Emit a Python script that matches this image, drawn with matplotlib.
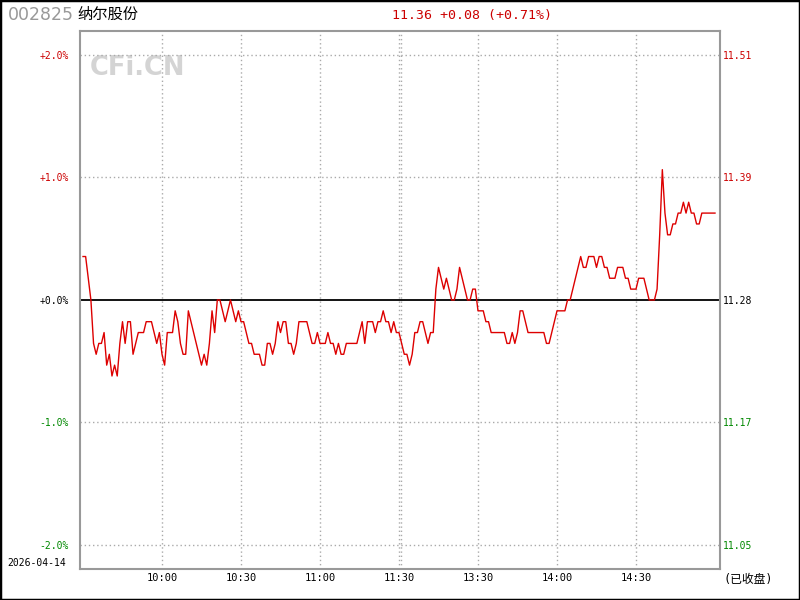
import numpy as np
import matplotlib
matplotlib.use('Agg')
import matplotlib.pyplot as plt
from matplotlib.patches import Rectangle

plt.rcParams['font.family'] = ['DejaVu Sans Mono', 'Noto Sans CJK SC']

# data
prev_close = 11.28
stock_code = '002825'
stock_name = '纳尔股份'
trade_date = '2026-04-14'
status = '(已收盘)'

# one value per minute, 09:30 .. 15:00, in cents from previous close
cents = [
    4, 4, 2, 0, -4, -5, -4, -4, -3, -6,
    -5, -7, -6, -7, -4, -2, -4, -2, -2, -5,
    -4, -3, -3, -3, -2, -2, -2, -3, -4, -3,
    -5, -6, -3, -3, -3, -1, -2, -4, -5, -5,
    -1, -2, -3, -4, -5, -6, -5, -6, -4, -1,
    -3, 0, 0, -1, -2, -1, 0, -1, -2, -1,
    -2, -2, -3, -4, -4, -5, -5, -5, -6, -6,
    -4, -4, -5, -4, -2, -3, -2, -2, -4, -4,
    -5, -4, -2, -2, -2, -2, -3, -4, -4, -3,
    -4, -4, -4, -3, -4, -4, -5, -4, -5, -5,
    -4, -4, -4, -4, -4, -3, -2, -4, -2, -2,
    -2, -3, -2, -2, -1, -2, -2, -3, -2, -3,
    -3, -4, -5, -5, -6, -5, -3, -3, -2, -2,
    -3, -4, -3, -3, 1, 3, 2, 1, 2, 1,
    0, 0, 1, 3, 2, 1, 0, 0, 1, 1,
    -1, -1, -1, -2, -2, -3, -3, -3, -3, -3,
    -3, -4, -4, -3, -4, -3, -1, -1, -2, -3,
    -3, -3, -3, -3, -3, -3, -4, -4, -3, -2,
    -1, -1, -1, -1, 0, 0, 1, 2, 3, 4,
    3, 3, 4, 4, 4, 3, 4, 4, 3, 3,
    2, 2, 2, 3, 3, 3, 2, 2, 1, 1,
    1, 2, 2, 2, 1, 0, 0, 0, 1, 6,
    12, 8, 6, 6, 7, 7, 8, 8, 9, 8,
    9, 8, 8, 7, 7, 8, 8, 8, 8, 8,
    8,
]

pct_ticks = [2, 1, 0, -1, -2]
time_pos = [30, 60, 90, 120, 150, 180, 210]
time_labels = ['10:00', '10:30', '11:00', '11:30', '13:30', '14:00', '14:30']

RED = '#cc0000'
GREEN = '#008800'

price = prev_close + np.array(cents) / 100.0
pct = (price - prev_close) / prev_close * 100
minutes = np.arange(len(price))

def tick_color(v):
    if v > 0:
        return RED
    if v < 0:
        return GREEN
    return 'black'

fig = plt.figure(figsize=(8, 6), dpi=100)
ax = fig.add_axes([0.1, 0.0517, 0.8, 0.8967])

ax.set_xlim(-1.14, 241.9)
ax.set_ylim(-2.196, 2.196)

# grid
for p in pct_ticks:
    if p == 0:
        ax.axhline(0, color='black', lw=1.3, zorder=2)
    else:
        ax.axhline(p, color='#aaaaaa', lw=1, ls=(0, (1, 2)), zorder=1)
for t in time_pos:
    ax.axvline(t, color='#aaaaaa', lw=1, ls=(0, (1, 2)), zorder=1)
ax.axvline(120.7, color='#aaaaaa', lw=1, ls=(0, (1, 2)), zorder=1)

ax.plot(minutes, pct, color='#dd0000', lw=1, zorder=3)

for s in ax.spines.values():
    s.set_color('#999999')
    s.set_linewidth(1.5)

ax.set_yticks(pct_ticks)
ax.set_yticklabels([f'{p:+.1f}%' for p in pct_ticks], fontsize=7)
for lab, p in zip(ax.get_yticklabels(), pct_ticks):
    lab.set_color(tick_color(p))
ax.tick_params(axis='y', length=0, pad=8)

ax.set_xticks(time_pos)
ax.set_xticklabels(time_labels, fontsize=7.5)
ax.tick_params(axis='x', length=0, pad=3)

ax2 = ax.twinx()
ax2.set_ylim(ax.get_ylim())
ax2.set_yticks(pct_ticks)
ax2.set_yticklabels([f'{prev_close * (1 + p / 100):.2f}' for p in pct_ticks], fontsize=7)
for lab, p in zip(ax2.get_yticklabels(), pct_ticks):
    lab.set_color(tick_color(p))
ax2.tick_params(axis='y', length=0, pad=2)
for s in ax2.spines.values():
    s.set_visible(False)

# watermark
ax.text(0.016, 0.955, 'CFi.CN', transform=ax.transAxes, family='DejaVu Sans',
        fontweight='bold', fontsize=18.5, color='#d4d4d4', va='top', ha='left', zorder=0)

# header
last = price[-1]
chg = last - prev_close
fig.text(0.01, 0.975, stock_code, fontsize=12.5, color='#999999', va='center', ha='left',
         family='DejaVu Sans')
fig.text(0.097, 0.976, stock_name, fontsize=11, color='black', va='center', ha='left',
         family=['Noto Sans CJK SC'])
fig.text(0.59, 0.975, f'{last:.2f} {chg:+.2f} ({chg / prev_close * 100:+.2f}%)',
         fontsize=9.5, color=RED, va='center', ha='center')
fig.text(0.009, 0.061, trade_date, fontsize=7, color='black', va='center', ha='left')
fig.text(0.904, 0.035, status, fontsize=8.5, color='black', va='center', ha='left')

fig.patches.append(Rectangle((0, 0), 1, 1, transform=fig.transFigure, fill=False,
                             edgecolor='black', lw=2.5))

fig.savefig('out.png', dpi=100)
